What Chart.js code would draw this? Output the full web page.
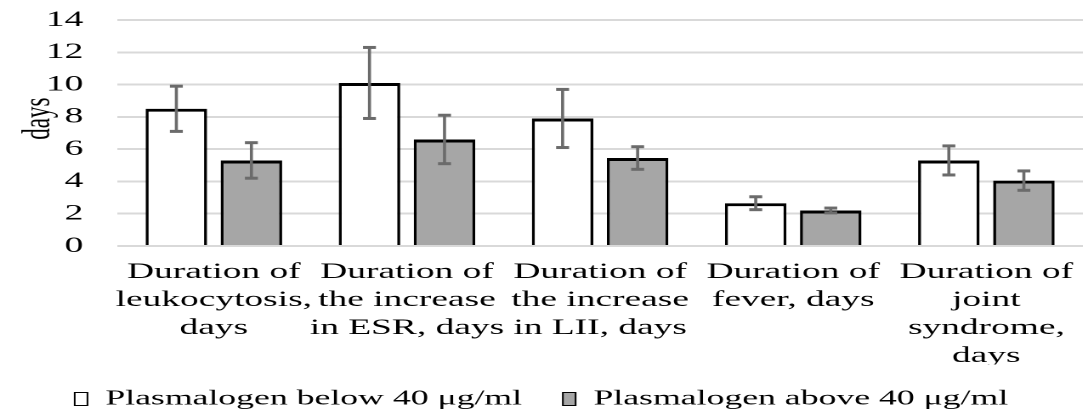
<!DOCTYPE html>
<html>
<head>
<meta charset="utf-8">
<script src="https://cdn.jsdelivr.net/npm/chart.js@4.4.1/dist/chart.umd.min.js"></script>
<style>
  html, body { margin: 0; padding: 0; background: #fff; overflow: hidden; }
  /* the reference picture is stretched sideways, so the chart is drawn narrow and widened */
  #wrap { width: 639px; height: 418px; transform: scaleX(1.7); transform-origin: 0 0; }
</style>
</head>
<body>
<div id="wrap"><canvas id="durationChart" width="639" height="418"></canvas></div>
<script>
const categories = [
  ['Duration of', 'leukocytosis,', 'days'],
  ['Duration of', 'the increase', 'in ESR, days'],
  ['Duration of', 'the increase', 'in LII, days'],
  ['Duration of', 'fever, days'],
  ['Duration of', 'joint', 'syndrome,', 'days']
];
const belowValues = [8.5, 10.1, 7.9, 2.65, 5.3];
const belowErrors = [1.4, 2.2, 1.8, 0.4, 0.9];
const aboveValues = [5.3, 6.6, 5.45, 2.2, 4.05];
const aboveErrors = [1.1, 1.5, 0.7, 0.15, 0.6];
const yTicks = [0, 2, 4, 6, 8, 10, 12, 14];

const serif = 'Liberation Serif, Times New Roman, serif';

const errorBars = {
  id: 'errorBars',
  afterDatasetsDraw(chart) {
    const ctx = chart.ctx;
    const yScale = chart.scales.y;
    chart.data.datasets.forEach((ds, i) => {
      const meta = chart.getDatasetMeta(i);
      meta.data.forEach((bar, j) => {
        const v = ds.data[j];
        const e = ds.errors[j];
        const yTop = yScale.getPixelForValue(v + e);
        const yBot = yScale.getPixelForValue(v - e);
        ctx.save();
        ctx.strokeStyle = '#6b6b6b';
        ctx.beginPath();
        ctx.lineWidth = 1.8;
        ctx.moveTo(bar.x, yTop);
        ctx.lineTo(bar.x, yBot);
        ctx.stroke();
        // caps drawn as thin filled strips so they stay 3px tall
        ctx.fillStyle = '#6b6b6b';
        ctx.fillRect(bar.x - 3.8, yTop - 1.5, 7.6, 3);
        ctx.fillRect(bar.x - 3.8, yBot - 1.5, 7.6, 3);
        ctx.restore();
      });
    });
  }
};

// keep the legend box a fixed height so the plot keeps its place
const legendHeight = {
  id: 'legendHeight',
  beforeLayout(chart) {
    const legend = chart.legend;
    if (legend && !legend.fixedFit) {
      const fit = legend.fit;
      legend.fit = function () {
        fit.call(this);
        this.height = 53.5;
      };
      legend.fixedFit = true;
    }
  }
};

const data = {
  labels: categories,
  datasets: [{
    label: 'Plasmalogen below 40 \u03BCg/ml',
    data: belowValues,
    errors: belowErrors,
    backgroundColor: '#ffffff',
    borderColor: '#000000',
    borderWidth: { top: 3, left: 1.8, right: 1.8, bottom: 0 },
    borderSkipped: false
  }, {
    label: 'Plasmalogen above 40 \u03BCg/ml',
    data: aboveValues,
    errors: aboveErrors,
    backgroundColor: '#a6a6a6',
    borderColor: '#000000',
    borderWidth: { top: 3, left: 1.8, right: 1.8, bottom: 0 },
    borderSkipped: false
  }]
};

const config = {
  type: 'bar',
  data: data,
  plugins: [errorBars, legendHeight],
  options: {
    responsive: false,
    animation: false,
    devicePixelRatio: 2,
    layout: { padding: { top: 20, right: 2, bottom: 0, left: 0 } },
    categoryPercentage: 0.777,
    barPercentage: 0.82,
    plugins: {
      tooltip: { enabled: false },
      legend: {
        position: 'bottom',
        labels: {
          color: '#000',
          font: { family: serif, size: 21 },
          boxWidth: 7.5,
          boxHeight: 13,
          padding: 24,
          generateLabels(chart) {
            return Chart.defaults.plugins.legend.labels.generateLabels(chart).map(item => {
              item.lineWidth = 1;
              item.strokeStyle = '#000';
              return item;
            });
          }
        }
      }
    },
    scales: {
      x: {
        grid: { display: false, drawTicks: false },
        border: { display: false },
        ticks: {
          color: '#000',
          font: { family: serif, size: 22, lineHeight: 1.273 },
          padding: 12,
          maxRotation: 0,
          autoSkip: false
        },
        afterFit(scale) {
          scale.height = 118.5;
          scale.paddingLeft = 0;
          scale.paddingRight = 0;
        }
      },
      y: {
        min: 0,
        max: 14,
        afterBuildTicks(scale) { scale.ticks = yTicks.map(v => ({ value: v })); },
        grid: { color: '#d9d9d9', lineWidth: 2, drawTicks: false },
        border: { display: false },
        ticks: {
          color: '#000',
          font: { family: serif, size: 22 },
          padding: 20
        },
        title: {
          display: true,
          text: '     days',
          color: '#000',
          font: { family: serif, size: 23 },
          padding: { top: 9, bottom: 0 }
        },
        afterFit(scale) {
          scale.width = 69;
          scale.paddingTop = 0;
          scale.paddingBottom = 0;
        }
      }
    }
  }
};

const durationChart = new Chart(document.getElementById('durationChart'), config);
</script>
</body>
</html>
